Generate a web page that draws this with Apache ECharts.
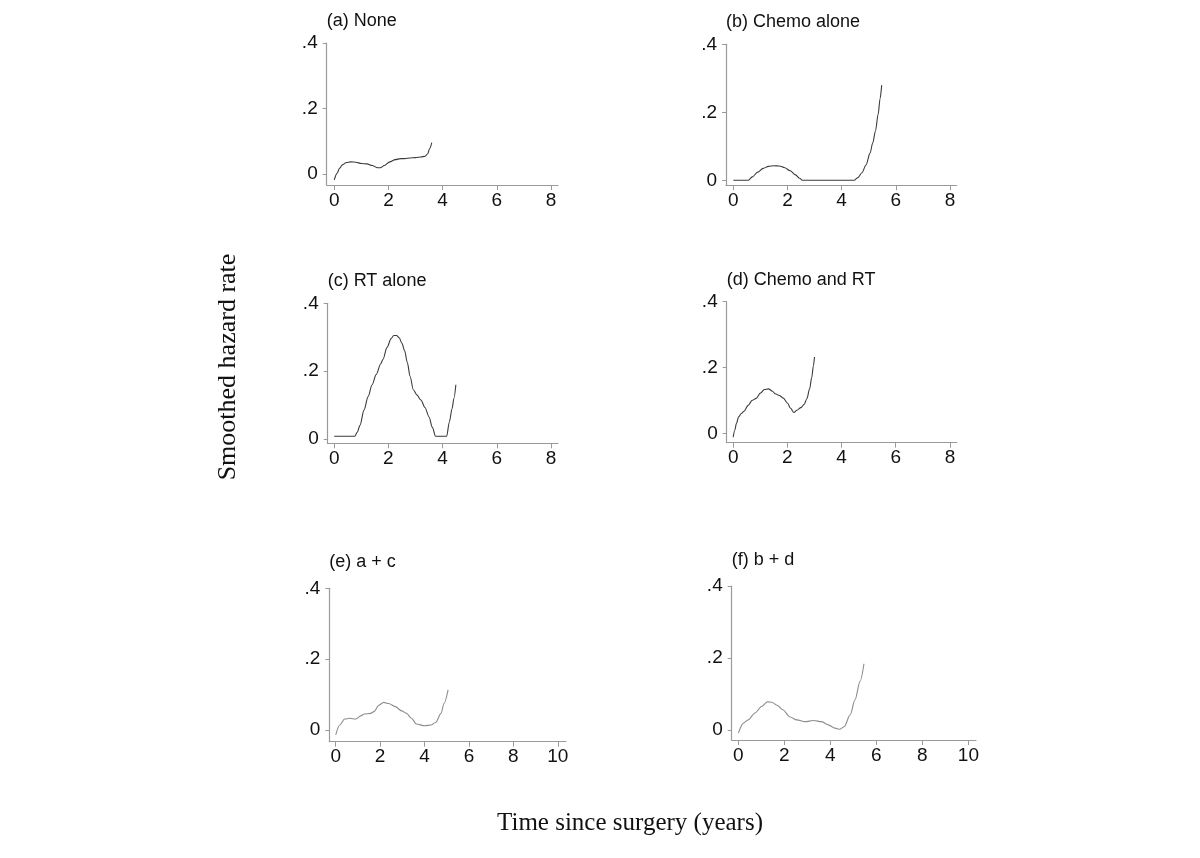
<!DOCTYPE html>
<html>
<head>
<meta charset="utf-8">
<script src="https://cdn.jsdelivr.net/npm/echarts@6/dist/echarts.min.js"></script>
<style>
  html, body { margin: 0; padding: 0; background: #fff; }
  #chart { width: 1200px; height: 858px; }
</style>
</head>
<body>
<div id="chart"></div>
<script>
// tick labels
const xTicksTop = [0, 2, 4, 6, 8]
const xTicksBottom = [0, 2, 4, 6, 8, 10]
const yTicks = [0, 0.2, 0.4]

const panelTitles = ['(a) None', '(b) Chemo alone', '(c) RT alone', '(d) Chemo and RT', '(e) a + c', '(f) b + d']

// smoothed hazard rate, [years, rate]
const noneHazard = [[0, -0.018], [0.1, 0.002], [0.2, 0.018], [0.3, 0.028], [0.45, 0.035], [0.6, 0.037], [0.8, 0.036], [1.0, 0.032], [1.2, 0.031], [1.4, 0.026], [1.6, 0.019], [1.7, 0.019], [1.85, 0.026], [2.05, 0.037], [2.25, 0.044], [2.45, 0.047], [2.6, 0.047], [2.8, 0.049], [3.0, 0.050], [3.2, 0.052], [3.35, 0.054], [3.45, 0.062], [3.52, 0.078], [3.6, 0.096]]

const chemoHazard = [[0, 0], [0.55, 0], [0.7, 0.01], [0.9, 0.024], [1.1, 0.035], [1.3, 0.041], [1.5, 0.043], [1.7, 0.042], [1.9, 0.037], [2.1, 0.028], [2.3, 0.016], [2.45, 0.006], [2.56, 0], [4.46, 0], [4.6, 0.008], [4.75, 0.022], [4.9, 0.045], [5.05, 0.08], [5.15, 0.11], [5.25, 0.145], [5.35, 0.195], [5.42, 0.24], [5.48, 0.28]]

const rtHazard = [[0, 0.008], [0.76, 0.008], [0.85, 0.02], [0.95, 0.04], [1.1, 0.085], [1.25, 0.125], [1.4, 0.16], [1.55, 0.19], [1.72, 0.222], [1.8, 0.235], [1.95, 0.27], [2.1, 0.296], [2.2, 0.305], [2.3, 0.305], [2.4, 0.298], [2.5, 0.282], [2.6, 0.26], [2.7, 0.225], [2.8, 0.185], [2.92, 0.145], [3.05, 0.13], [3.2, 0.115], [3.35, 0.093], [3.5, 0.065], [3.62, 0.035], [3.74, 0.008], [4.15, 0.008], [4.25, 0.05], [4.35, 0.09], [4.42, 0.12], [4.49, 0.16]]

const chemoRtHazard = [[0, -0.012], [0.06, 0.01], [0.12, 0.03], [0.2, 0.05], [0.3, 0.06], [0.4, 0.067], [0.55, 0.085], [0.7, 0.1], [0.85, 0.106], [1.0, 0.122], [1.15, 0.133], [1.3, 0.135], [1.45, 0.128], [1.55, 0.12], [1.7, 0.115], [1.85, 0.107], [2.0, 0.092], [2.12, 0.076], [2.24, 0.063], [2.35, 0.07], [2.5, 0.078], [2.62, 0.088], [2.72, 0.105], [2.82, 0.135], [2.9, 0.17], [2.96, 0.205], [3.0, 0.232]]

const acHazard = [[0, -0.014], [0.18, 0.014], [0.4, 0.031], [0.62, 0.033], [0.91, 0.031], [1.13, 0.04], [1.28, 0.045], [1.57, 0.047], [1.72, 0.052], [1.94, 0.07], [2.16, 0.078], [2.38, 0.075], [2.68, 0.066], [2.97, 0.054], [3.19, 0.047], [3.41, 0.033], [3.63, 0.017], [4.0, 0.012], [4.29, 0.014], [4.51, 0.022], [4.74, 0.047], [4.88, 0.075], [5.06, 0.113]]

const bdHazard = [[0, -0.009], [0.22, 0.019], [0.43, 0.028], [0.72, 0.047], [1.01, 0.065], [1.26, 0.078], [1.45, 0.077], [1.7, 0.068], [1.93, 0.056], [2.25, 0.036], [2.54, 0.028], [2.9, 0.023], [3.26, 0.026], [3.62, 0.023], [3.91, 0.014], [4.2, 0.005], [4.42, 0.002], [4.6, 0.009], [4.86, 0.042], [5.07, 0.084], [5.29, 0.135], [5.46, 0.184]]

const panelData = [noneHazard, chemoHazard, rtHazard, chemoRtHazard, acHazard, bdHazard]

// 每个面板的位置与坐标范围
const panels = [
  { left: 326.7, top: 43, width: 231.3, height: 142, xMin: -0.28, xMax: 8.26, yMin: -0.0336, ticks: xTicksTop, color: '#3a3a3a' },
  { left: 726, top: 44.3, width: 230.7, height: 141, xMin: -0.27, xMax: 8.25, yMin: -0.0147, ticks: xTicksTop, color: '#3a3a3a' },
  { left: 327.7, top: 303.3, width: 230.3, height: 140, xMin: -0.24, xMax: 8.26, yMin: -0.0127, ticks: xTicksTop, color: '#3a3a3a' },
  { left: 726.7, top: 301.7, width: 230, height: 141, xMin: -0.24, xMax: 8.25, yMin: -0.0286, ticks: xTicksTop, color: '#3a3a3a' },
  { left: 329.3, top: 588.3, width: 236.7, height: 153.4, xMin: -0.29, xMax: 10.37, yMin: -0.033, ticks: xTicksBottom, color: '#8c8c8c' },
  { left: 731.7, top: 586, width: 244.3, height: 154, xMin: -0.29, xMax: 10.33, yMin: -0.028, ticks: xTicksBottom, color: '#8c8c8c' }
]

const axisColor = '#9a9a9a'
const labelFont = 'Liberation Sans, Arial, sans-serif'

function formatRate(v) {
  if (v === 0) return '0'
  return String(+v.toFixed(1)).replace(/^0/, '')
}

const grid = []
const xAxis = []
const yAxis = []
const series = []
const graphic = []

panels.forEach((p, i) => {
  grid.push({ left: p.left, top: p.top, width: p.width, height: p.height })
  xAxis.push({
    type: 'value',
    gridIndex: i,
    min: p.xMin,
    max: p.xMax,
    axisLine: { onZero: false, lineStyle: { color: axisColor, width: 1.2 } },
    axisTick: { show: true, length: 5, customValues: p.ticks, lineStyle: { color: axisColor } },
    axisLabel: { customValues: p.ticks, color: '#111', fontSize: 19, fontFamily: labelFont, margin: 6 },
    splitLine: { show: false }
  })
  yAxis.push({
    type: 'value',
    gridIndex: i,
    min: p.yMin,
    max: 0.4,
    axisLine: { show: true, onZero: false, lineStyle: { color: axisColor, width: 1.2 } },
    axisTick: { show: true, length: 4, customValues: yTicks, lineStyle: { color: axisColor } },
    axisLabel: { customValues: yTicks, color: '#111', fontSize: 19, fontFamily: labelFont, margin: 9, formatter: formatRate },
    splitLine: { show: false }
  })
  series.push({
    type: 'line',
    xAxisIndex: i,
    yAxisIndex: i,
    data: panelData[i],
    smooth: 0.3,
    smoothMonotone: 'x',
    showSymbol: false,
    lineStyle: { color: p.color, width: 1.1 }
  })
  graphic.push({
    type: 'text',
    left: p.left,
    top: p.top - (i < 4 ? 31 : 35),
    style: { text: panelTitles[i], font: '18px ' + labelFont, fill: '#111' }
  })
})

graphic.push({
  type: 'text',
  x: 228,
  y: 367,
  rotation: Math.PI / 2,
  style: { text: 'Smoothed hazard rate', font: '26px "Liberation Serif", "Times New Roman", serif', fill: '#111', textAlign: 'center', textVerticalAlign: 'middle' }
})
graphic.push({
  type: 'text',
  x: 630,
  y: 823,
  style: { text: 'Time since surgery (years)', font: '25px "Liberation Serif", "Times New Roman", serif', fill: '#111', textAlign: 'center', textVerticalAlign: 'middle' }
})

const chart = echarts.init(document.getElementById('chart'))
chart.setOption({
  animation: false,
  backgroundColor: '#fff',
  grid,
  xAxis,
  yAxis,
  series,
  graphic
})
</script>
</body>
</html>
